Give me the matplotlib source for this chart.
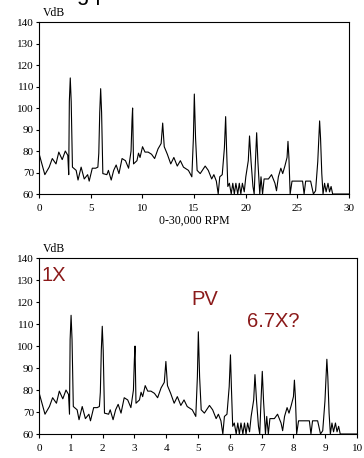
import matplotlib.pyplot as plt

# spectrum, x in orders of running speed (1X = 3000 RPM)
orders = [0.0, 0.19, 0.33, 0.43, 0.55, 0.64, 0.75, 0.85, 0.93, 0.96, 0.98, 1.01, 1.04, 1.08,
          1.2, 1.26, 1.36, 1.46, 1.57, 1.62, 1.72, 1.83, 1.9, 1.93, 1.96, 1.99, 2.02, 2.06,
          2.19, 2.24, 2.33, 2.41, 2.49, 2.58, 2.68, 2.79, 2.89, 2.97, 3.0, 3.02, 3.05, 3.16,
          3.21, 3.26, 3.34, 3.42, 3.52, 3.63, 3.73, 3.84, 3.94, 3.99, 4.04, 4.14, 4.25, 4.35,
          4.46, 4.56, 4.66, 4.82, 4.93, 4.98, 5.01, 5.05, 5.1, 5.2, 5.36, 5.46, 5.57, 5.64,
          5.72, 5.78, 5.83, 5.91, 5.98, 6.02, 6.05, 6.09, 6.14, 6.2, 6.25, 6.3, 6.35, 6.41,
          6.46, 6.51, 6.56, 6.62, 6.67, 6.75, 6.79, 6.84, 6.9, 6.94, 6.98, 7.02, 7.06, 7.12,
          7.16, 7.21, 7.26, 7.4, 7.5, 7.61, 7.66, 7.72, 7.8, 7.86, 7.93, 8.0, 8.03, 8.06,
          8.1, 8.16, 8.5, 8.55, 8.6, 8.76, 8.85, 8.92, 8.99, 9.05, 9.08, 9.12, 9.16, 9.21,
          9.26, 9.32, 9.37, 9.42, 9.47, 10.0]
vdb = [79, 69, 72.5, 76.5, 74, 79.5, 76, 80, 78, 69, 103, 114, 103, 72.5,
       71, 66.5, 72.5, 67, 69, 66, 72, 72, 72.5, 79, 98, 109, 98, 69.5,
       69, 71, 66.5, 71, 73.5, 69.5, 76.5, 75.5, 72, 80, 94, 100, 74, 75.5,
       79, 77, 82, 79.5, 79.5, 78.5, 76.5, 81, 83.5, 93, 82, 78.5, 74, 77,
       73, 75.5, 72.5, 71, 68, 86, 106.5, 86, 71, 69.5, 73, 71, 67, 69,
       66, 60, 68, 69, 81.5, 96, 81, 63.5, 65, 60, 65, 60, 65, 60,
       65, 60, 65, 61, 68, 75.5, 87, 75, 63.5, 60, 75, 88.5, 75, 60,
       68, 60, 67, 67, 69, 65, 61.5, 68, 72, 69.5, 73, 77, 84.5, 77,
       60, 66, 66, 60, 66, 66, 60, 61.5, 75, 94, 86, 69.5, 60, 65,
       61, 65, 61, 63.5, 60, 60]

rpm_k = [o * 3 for o in orders]  # same trace on the 0-30,000 RPM scale

y_ticks = [60, 70, 80, 90, 100, 110, 120, 130, 140]
red = '#8b1a1a'
serif = 'Liberation Serif'

fig = plt.figure(figsize=(3.64, 4.58), dpi=100)

# clipped heading at the very top of the slide
fig.text(0.212, 1.0, 'g p', fontsize=16, family='Liberation Sans', va='baseline', ha='left')


def style(ax, xmax, xstep):
    ax.set_xlim(0, xmax)
    ax.set_ylim(60, 140)
    ax.set_yticks(y_ticks)
    ax.set_xticks(range(0, xmax + 1, xstep))
    ax.tick_params(axis='y', length=2, width=0.8, pad=1.5, labelsize=8)
    ax.tick_params(axis='x', length=3, width=0.8, pad=4.5, labelsize=8)
    for lab in ax.get_xticklabels() + ax.get_yticklabels():
        lab.set_family(serif)
    for s in ax.spines.values():
        s.set_linewidth(0.8)
    ax.text(0.013, 1.015, 'VdB', transform=ax.transAxes, fontsize=8.5,
            family=serif, ha='left', va='bottom')


ax1 = fig.add_axes([0.107, 0.5764, 0.852, 0.3755])
ax1.plot(rpm_k, vdb, color='black', lw=0.8)
style(ax1, 30, 5)
ax1.set_xlabel('0-30,000 RPM', fontsize=8.5, family=serif, labelpad=1)

ax2 = fig.add_axes([0.107, 0.0524, 0.874, 0.384])
ax2.plot(orders, vdb, color='black', lw=0.8)
style(ax2, 10, 1)
ax2.text(0.08, 132, '1X', color=red, fontsize=14.5, family='Liberation Sans', va='center', ha='left')
ax2.text(4.8, 121, 'PV', color=red, fontsize=14.5, family='Liberation Sans', va='center', ha='left')
ax2.text(6.55, 111, '6.7X?', color=red, fontsize=14.5, family='Liberation Sans', va='center', ha='left')

fig.savefig('out.png', dpi=100)
